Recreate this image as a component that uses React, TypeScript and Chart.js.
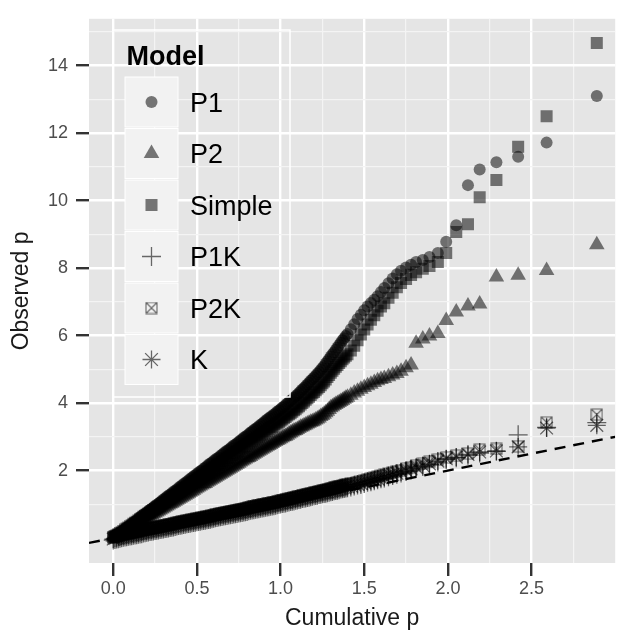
import React, { useEffect, useRef } from 'react';
import { Chart, registerables } from 'chart.js';
import { drawPoint } from 'chart.js/helpers';

Chart.register(...registerables);

// Expected (cumulative) p quantiles, shared by all models
const expectedP = [
  0, 0.01, 0.02, 0.03, 0.04, 0.05, 0.06, 0.07, 0.08, 0.09,
  0.1, 0.11, 0.12, 0.13, 0.14, 0.15, 0.16, 0.17, 0.18, 0.19,
  0.2, 0.21, 0.22, 0.23, 0.24, 0.25, 0.26, 0.27, 0.28, 0.29,
  0.3, 0.31, 0.32, 0.33, 0.34, 0.35, 0.36, 0.37, 0.38, 0.39,
  0.4, 0.41, 0.42, 0.43, 0.44, 0.45, 0.46, 0.47, 0.48, 0.49,
  0.5, 0.51, 0.52, 0.53, 0.54, 0.55, 0.56, 0.57, 0.58, 0.59,
  0.6, 0.61, 0.62, 0.63, 0.64, 0.65, 0.66, 0.67, 0.68, 0.69,
  0.7, 0.71, 0.72, 0.73, 0.74, 0.75, 0.76, 0.77, 0.78, 0.79,
  0.8, 0.81, 0.82, 0.83, 0.84, 0.85, 0.86, 0.87, 0.88, 0.89,
  0.9, 0.91, 0.92, 0.93, 0.94, 0.95, 0.96, 0.97, 0.98, 0.99,
  1.0, 1.01, 1.02, 1.03, 1.04, 1.05, 1.06, 1.07, 1.08, 1.09,
  1.1, 1.11, 1.12, 1.13, 1.14, 1.15, 1.16, 1.17, 1.18, 1.19,
  1.2, 1.21, 1.22, 1.23, 1.24, 1.25, 1.26, 1.27, 1.28, 1.29,
  1.3, 1.31, 1.32, 1.33, 1.34, 1.35, 1.36, 1.37, 1.38, 1.39,
  1.4, 1.42, 1.44, 1.46, 1.48, 1.5, 1.52, 1.54, 1.56, 1.58,
  1.6, 1.62, 1.645, 1.67, 1.695, 1.72, 1.75, 1.78, 1.81, 1.85,
  1.89, 1.94,
  1.99, 2.05, 2.12, 2.19, 2.29, 2.42, 2.59, 2.89,
];

// Observed p per model
const p1Obs = [
  0.03, 0.06, 0.09, 0.12, 0.16, 0.19, 0.23, 0.27, 0.31, 0.34,
  0.38, 0.42, 0.46, 0.49, 0.53, 0.57, 0.61, 0.65, 0.69, 0.72,
  0.76, 0.8, 0.84, 0.87, 0.91, 0.95, 0.99, 1.02, 1.06, 1.1,
  1.14, 1.18, 1.22, 1.25, 1.29, 1.33, 1.37, 1.4, 1.44, 1.48,
  1.52, 1.56, 1.6, 1.63, 1.67, 1.71, 1.75, 1.79, 1.83, 1.86,
  1.9, 1.94, 1.98, 2.01, 2.05, 2.09, 2.13, 2.17, 2.21, 2.24,
  2.28, 2.32, 2.36, 2.39, 2.43, 2.47, 2.51, 2.55, 2.59, 2.62,
  2.66, 2.7, 2.74, 2.77, 2.81, 2.85, 2.89, 2.93, 2.97, 3.0,
  3.04, 3.08, 3.12, 3.16, 3.2, 3.23, 3.27, 3.31, 3.35, 3.39,
  3.43, 3.47, 3.51, 3.55, 3.59, 3.62, 3.66, 3.7, 3.74, 3.78,
  3.82, 3.86, 3.9, 3.94, 3.99, 4.03, 4.07, 4.11, 4.16, 4.2,
  4.25, 4.3, 4.35, 4.4, 4.45, 4.5, 4.55, 4.6, 4.66, 4.71,
  4.76, 4.81, 4.87, 4.92, 4.98, 5.04, 5.1, 5.17, 5.24, 5.31,
  5.38, 5.45, 5.51, 5.58, 5.65, 5.72, 5.79, 5.86, 5.92, 5.99,
  6.05, 6.19, 6.34, 6.49, 6.62, 6.75, 6.86, 6.97, 7.06, 7.17,
  7.29, 7.41, 7.55, 7.69, 7.82, 7.92, 8.02, 8.1, 8.18, 8.24,
  8.33, 8.45,
  8.78, 9.27, 10.46, 10.92, 11.14, 11.3, 11.72, 13.1,
];

const p2Obs = [
  0.02, 0.04, 0.07, 0.1, 0.12, 0.15, 0.18, 0.21, 0.24, 0.27,
  0.3, 0.33, 0.36, 0.39, 0.42, 0.44, 0.47, 0.5, 0.53, 0.56,
  0.59, 0.62, 0.65, 0.68, 0.71, 0.74, 0.77, 0.8, 0.83, 0.86,
  0.89, 0.92, 0.95, 0.98, 1.01, 1.03, 1.06, 1.09, 1.12, 1.15,
  1.18, 1.21, 1.24, 1.27, 1.3, 1.33, 1.36, 1.39, 1.42, 1.45,
  1.48, 1.51, 1.54, 1.57, 1.6, 1.62, 1.65, 1.68, 1.71, 1.74,
  1.77, 1.8, 1.83, 1.86, 1.89, 1.92, 1.95, 1.98, 2.01, 2.04,
  2.07, 2.1, 2.13, 2.16, 2.19, 2.22, 2.25, 2.28, 2.31, 2.34,
  2.37, 2.39, 2.42, 2.45, 2.48, 2.51, 2.54, 2.57, 2.6, 2.63,
  2.66, 2.69, 2.72, 2.74, 2.77, 2.8, 2.83, 2.86, 2.89, 2.91,
  2.94, 2.97, 3.0, 3.02, 3.05, 3.08, 3.11, 3.14, 3.17, 3.19,
  3.22, 3.25, 3.28, 3.3, 3.33, 3.35, 3.38, 3.4, 3.43, 3.45,
  3.47, 3.5, 3.53, 3.56, 3.6, 3.63, 3.67, 3.71, 3.76, 3.81,
  3.86, 3.89, 3.93, 3.96, 3.99, 4.02, 4.05, 4.08, 4.11, 4.14,
  4.17, 4.23, 4.3, 4.35, 4.41, 4.46, 4.51, 4.56, 4.61, 4.66,
  4.7, 4.73, 4.78, 4.83, 4.88, 4.94, 5.05, 5.13, 5.77, 5.9,
  5.99, 6.06,
  6.45, 6.7, 6.88, 6.94, 7.74, 7.79, 7.93, 8.69,
];

const simpleObs = [
  0.02, 0.05, 0.08, 0.11, 0.15, 0.17, 0.21, 0.25, 0.28, 0.31,
  0.35, 0.38, 0.42, 0.45, 0.48, 0.52, 0.56, 0.59, 0.63, 0.66,
  0.69, 0.73, 0.76, 0.79, 0.83, 0.86, 0.9, 0.93, 0.96, 1.0,
  1.04, 1.07, 1.11, 1.14, 1.17, 1.21, 1.25, 1.27, 1.31, 1.35,
  1.38, 1.42, 1.46, 1.48, 1.52, 1.56, 1.59, 1.63, 1.67, 1.69,
  1.73, 1.77, 1.8, 1.83, 1.87, 1.9, 1.94, 1.97, 2.01, 2.04,
  2.07, 2.11, 2.15, 2.17, 2.21, 2.25, 2.28, 2.32, 2.36, 2.38,
  2.42, 2.46, 2.49, 2.52, 2.56, 2.59, 2.63, 2.67, 2.7, 2.73,
  2.77, 2.8, 2.84, 2.88, 2.91, 2.94, 2.98, 3.01, 3.05, 3.08,
  3.12, 3.16, 3.19, 3.23, 3.27, 3.29, 3.33, 3.37, 3.4, 3.44,
  3.48, 3.51, 3.55, 3.59, 3.63, 3.67, 3.7, 3.74, 3.79, 3.82,
  3.87, 3.91, 3.96, 4.0, 4.05, 4.1, 4.14, 4.19, 4.24, 4.29,
  4.33, 4.38, 4.43, 4.48, 4.53, 4.59, 4.64, 4.7, 4.77, 4.83,
  4.9, 4.96, 5.02, 5.08, 5.13, 5.19, 5.24, 5.3, 5.35, 5.4,
  5.45, 5.56, 5.7, 5.86, 6.03, 6.18, 6.33, 6.47, 6.6, 6.74,
  6.86, 6.96, 7.12, 7.27, 7.43, 7.56, 7.68, 7.8, 7.88, 7.98,
  8.06, 8.18,
  8.45, 9.07, 9.3, 10.1, 10.61, 11.6, 12.5, 14.67,
];

const p1kObs = [
  -0.06, -0.04, -0.03, -0.02, -0.01, 0.01, 0.02, 0.03, 0.04, 0.05,
  0.06, 0.07, 0.08, 0.09, 0.1, 0.11, 0.12, 0.13, 0.15, 0.16,
  0.17, 0.18, 0.19, 0.2, 0.21, 0.22, 0.23, 0.24, 0.25, 0.26,
  0.27, 0.28, 0.29, 0.3, 0.31, 0.32, 0.33, 0.34, 0.36, 0.37,
  0.38, 0.39, 0.4, 0.41, 0.42, 0.43, 0.44, 0.45, 0.46, 0.47,
  0.48, 0.49, 0.5, 0.51, 0.52, 0.53, 0.54, 0.55, 0.56, 0.57,
  0.59, 0.6, 0.61, 0.62, 0.63, 0.64, 0.65, 0.66, 0.67, 0.68,
  0.69, 0.7, 0.71, 0.72, 0.73, 0.74, 0.75, 0.76, 0.77, 0.78,
  0.79, 0.81, 0.82, 0.83, 0.84, 0.85, 0.86, 0.87, 0.88, 0.89,
  0.9, 0.91, 0.92, 0.93, 0.94, 0.95, 0.96, 0.97, 0.99, 1.0,
  1.01, 1.02, 1.03, 1.04, 1.06, 1.07, 1.08, 1.09, 1.1, 1.12,
  1.13, 1.14, 1.15, 1.17, 1.18, 1.19, 1.2, 1.21, 1.22, 1.24,
  1.25, 1.26, 1.27, 1.29, 1.3, 1.31, 1.32, 1.33, 1.34, 1.36,
  1.37, 1.38, 1.4, 1.41, 1.42, 1.43, 1.45, 1.46, 1.47, 1.48,
  1.49, 1.51, 1.54, 1.57, 1.59, 1.62, 1.65, 1.67, 1.7, 1.73,
  1.76, 1.78, 1.82, 1.85, 1.89, 1.93, 1.97, 2.02, 2.07, 2.12,
  2.18, 2.25,
  2.33, 2.38, 2.45, 2.52, 2.57, 3.06, 3.28, 3.42,
];

const p2kObs = [
  0.02, 0.04, 0.06, 0.07, 0.08, 0.1, 0.11, 0.12, 0.13, 0.14,
  0.15, 0.16, 0.17, 0.18, 0.19, 0.2, 0.21, 0.23, 0.24, 0.25,
  0.26, 0.27, 0.28, 0.29, 0.3, 0.31, 0.32, 0.33, 0.34, 0.35,
  0.36, 0.37, 0.38, 0.39, 0.4, 0.41, 0.42, 0.44, 0.45, 0.46,
  0.47, 0.48, 0.49, 0.5, 0.51, 0.52, 0.53, 0.54, 0.55, 0.56,
  0.57, 0.58, 0.59, 0.6, 0.61, 0.62, 0.63, 0.64, 0.65, 0.66,
  0.68, 0.69, 0.7, 0.71, 0.72, 0.73, 0.74, 0.75, 0.76, 0.77,
  0.78, 0.79, 0.8, 0.81, 0.82, 0.83, 0.84, 0.85, 0.86, 0.87,
  0.88, 0.9, 0.91, 0.92, 0.93, 0.94, 0.95, 0.96, 0.97, 0.98,
  0.99, 1.0, 1.01, 1.02, 1.03, 1.04, 1.05, 1.06, 1.08, 1.09,
  1.1, 1.11, 1.12, 1.13, 1.15, 1.16, 1.17, 1.18, 1.19, 1.21,
  1.22, 1.23, 1.24, 1.26, 1.27, 1.28, 1.29, 1.3, 1.31, 1.33,
  1.34, 1.35, 1.36, 1.38, 1.39, 1.4, 1.41, 1.42, 1.43, 1.45,
  1.46, 1.48, 1.49, 1.51, 1.52, 1.53, 1.54, 1.55, 1.56, 1.58,
  1.59, 1.61, 1.63, 1.66, 1.68, 1.71, 1.74, 1.76, 1.79, 1.82,
  1.85, 1.87, 1.91, 1.94, 1.98, 2.01, 2.06, 2.1, 2.15, 2.2,
  2.26, 2.32,
  2.38, 2.44, 2.5, 2.62, 2.64, 2.72, 3.43, 3.66,
];

const kObs = [
  -0.03, -0.01, 0.01, 0.02, 0.03, 0.05, 0.06, 0.07, 0.08, 0.09,
  0.1, 0.11, 0.12, 0.13, 0.14, 0.15, 0.16, 0.18, 0.19, 0.2,
  0.21, 0.22, 0.23, 0.24, 0.25, 0.26, 0.27, 0.28, 0.29, 0.3,
  0.31, 0.32, 0.33, 0.34, 0.35, 0.36, 0.37, 0.39, 0.4, 0.41,
  0.42, 0.43, 0.44, 0.45, 0.46, 0.47, 0.48, 0.49, 0.5, 0.51,
  0.52, 0.53, 0.54, 0.55, 0.56, 0.57, 0.58, 0.59, 0.6, 0.61,
  0.63, 0.64, 0.65, 0.66, 0.67, 0.68, 0.69, 0.7, 0.71, 0.72,
  0.73, 0.74, 0.75, 0.76, 0.77, 0.78, 0.79, 0.8, 0.81, 0.82,
  0.83, 0.85, 0.86, 0.87, 0.88, 0.89, 0.9, 0.91, 0.92, 0.93,
  0.94, 0.95, 0.96, 0.97, 0.98, 0.99, 1.0, 1.01, 1.03, 1.04,
  1.05, 1.06, 1.07, 1.08, 1.1, 1.11, 1.12, 1.13, 1.14, 1.16,
  1.17, 1.18, 1.19, 1.21, 1.22, 1.23, 1.24, 1.25, 1.26, 1.28,
  1.29, 1.3, 1.31, 1.33, 1.34, 1.35, 1.36, 1.37, 1.38, 1.4,
  1.41, 1.42, 1.43, 1.44, 1.45, 1.47, 1.48, 1.49, 1.5, 1.52,
  1.53, 1.55, 1.58, 1.6, 1.62, 1.65, 1.68, 1.7, 1.73, 1.76,
  1.79, 1.81, 1.85, 1.88, 1.92, 1.96, 2.0, 2.05, 2.1, 2.15,
  2.2, 2.28,
  2.35, 2.4, 2.48, 2.55, 2.58, 2.7, 3.26, 3.34,
];

const modelNames = ['P1', 'P2', 'Simple', 'P1K', 'P2K', 'K'];
const legendTitle = 'Model';
const xTitle = 'Cumulative p';
const yTitle = 'Observed p';

// Axis breaks (major labelled, minor unlabelled)
const xTickValues = [0, 0.25, 0.5, 0.75, 1, 1.25, 1.5, 1.75, 2, 2.25, 2.5, 2.75];
const xMajorTicks = [0, 0.5, 1, 1.5, 2, 2.5];
const yTickValues = [1, 2, 3, 4, 5, 6, 7, 8, 9, 10, 11, 12, 13, 14, 15];
const yMajorTicks = [2, 4, 6, 8, 10, 12, 14];
const xLimits = [-0.145, 3.0];
const yLimits = [-0.74, 15.39];
const refLineX = [-0.145, 3.0]; // identity line y = x

const FONT = "'Liberation Sans', Arial, Helvetica, sans-serif";
const FILL = 'rgba(0,0,0,0.52)';
const STROKE = 'rgba(0,0,0,0.58)';

function makeBoxCross(size: number): HTMLCanvasElement {
  const c = document.createElement('canvas');
  c.width = size;
  c.height = size;
  const g = c.getContext('2d')!;
  g.strokeStyle = STROKE;
  g.lineWidth = 1.1;
  g.beginPath();
  g.rect(1, 1, size - 2, size - 2);
  g.moveTo(1, 1);
  g.lineTo(size - 1, size - 1);
  g.moveTo(size - 1, 1);
  g.lineTo(1, size - 1);
  g.stroke();
  return c;
}

export default function App() {
  const ref = useRef<HTMLCanvasElement>(null);

  useEffect(() => {
    const canvas = ref.current;
    if (!canvas) return;
    const boxCross = makeBoxCross(13);

    const markerStyles: any[] = [
      { pointStyle: 'circle', radius: 6, backgroundColor: FILL, borderColor: FILL, borderWidth: 0 },
      { pointStyle: 'triangle', radius: 9, backgroundColor: FILL, borderColor: FILL, borderWidth: 0 },
      { pointStyle: 'rect', radius: 8.5, backgroundColor: FILL, borderColor: FILL, borderWidth: 0 },
      { pointStyle: 'cross', radius: 9.5, backgroundColor: 'rgba(0,0,0,0)', borderColor: STROKE, borderWidth: 1.3 },
      { pointStyle: boxCross, radius: 6.5, backgroundColor: 'rgba(0,0,0,0)', borderColor: STROKE, borderWidth: 0 },
      { pointStyle: 'star', radius: 9, backgroundColor: 'rgba(0,0,0,0)', borderColor: STROKE, borderWidth: 1.3 },
    ];
    const obs = [p1Obs, p2Obs, simpleObs, p1kObs, p2kObs, kObs];

    const pointSets = modelNames.map((name, s) => ({
      label: name,
      data: expectedP.map((x, i) => ({ x, y: obs[s][i] })),
      pointStyle: markerStyles[s].pointStyle,
      pointRadius: markerStyles[s].radius,
      pointBackgroundColor: markerStyles[s].backgroundColor,
      pointBorderColor: markerStyles[s].borderColor,
      pointBorderWidth: markerStyles[s].borderWidth,
      showLine: false,
    }));

    const lineSet = {
      label: 'identity',
      data: refLineX.map((x) => ({ x, y: x })),
      showLine: true,
      borderColor: '#000',
      borderWidth: 2.4,
      borderDash: [11, 8],
      pointRadius: 0,
      fill: false,
    };

    const panelBg = {
      id: 'panelBg',
      beforeDraw(chart: any) {
        const { ctx, chartArea: a } = chart;
        ctx.save();
        ctx.fillStyle = '#e5e5e5';
        ctx.fillRect(a.left, a.top, a.right - a.left, a.bottom - a.top);
        ctx.restore();
      },
    };

    const ggLegend = {
      id: 'ggLegend',
      afterDraw(chart: any) {
        const ctx = chart.ctx as CanvasRenderingContext2D;
        ctx.save();
        ctx.strokeStyle = '#ffffff';
        ctx.lineWidth = 1.5;
        ctx.strokeRect(113, 30, 177, 367);
        ctx.fillStyle = '#000';
        ctx.font = `bold 27px ${FONT}`;
        ctx.textAlign = 'left';
        ctx.textBaseline = 'alphabetic';
        ctx.fillText(legendTitle, 126.5, 65);
        const keyLeft = 125;
        const keyW = 53;
        const rowH = 51.5;
        const top0 = 77;
        modelNames.forEach((name, i) => {
          const y0 = top0 + i * rowH;
          ctx.fillStyle = '#f2f2f2';
          ctx.fillRect(keyLeft, y0, keyW, rowH - 1.5);
          ctx.strokeStyle = '#ffffff';
          ctx.lineWidth = 1;
          ctx.strokeRect(keyLeft, y0, keyW, rowH - 1.5);
          const cy = y0 + (rowH - 1.5) / 2;
          const st = markerStyles[i];
          ctx.fillStyle = st.backgroundColor;
          ctx.strokeStyle = st.borderColor;
          ctx.lineWidth = st.borderWidth || 1;
          drawPoint(ctx, { pointStyle: st.pointStyle, radius: st.radius, rotation: 0, borderWidth: st.borderWidth } as any, keyLeft + keyW / 2, cy);
          ctx.fillStyle = '#000';
          ctx.font = `27px ${FONT}`;
          ctx.fillText(name, 190, cy + 9.7);
        });
        ctx.restore();
      },
    };

    const isMajor = (v: number, list: number[]) => list.some((m) => Math.abs(m - v) < 1e-9);

    const chart = new Chart(canvas, {
      type: 'scatter',
      data: { datasets: [lineSet as any, ...pointSets] },
      options: {
        responsive: false,
        animation: false,
        devicePixelRatio: 1,
        events: [],
        layout: { padding: { top: 10, right: 0, left: 0, bottom: 0 } },
        plugins: { legend: { display: false }, tooltip: { enabled: false } },
        scales: {
          x: {
            type: 'linear',
            min: xLimits[0],
            max: xLimits[1],
            afterFit(scale: any) { scale.height = 73; },
            afterBuildTicks(scale: any) { scale.ticks = xTickValues.map((v) => ({ value: v })); },
            border: { display: false },
            grid: {
              color: (c: any) => (isMajor(c.tick?.value, xMajorTicks) ? '#ffffff' : '#f4f4f4'),
              lineWidth: (c: any) => (isMajor(c.tick?.value, xMajorTicks) ? 2.4 : 1.2),
              tickColor: (c: any) => (isMajor(c.tick?.value, xMajorTicks) ? '#333333' : 'rgba(0,0,0,0)'),
              tickWidth: 2.4,
              tickLength: 13,
              drawTicks: true,
            },
            ticks: {
              autoSkip: false,
              maxRotation: 0,
              padding: 2,
              color: '#4d4d4d',
              font: { family: FONT, size: 18 },
              callback: (v: any) => (isMajor(Number(v), xMajorTicks) ? Number(v).toFixed(1) : ''),
            },
            title: {
              display: true,
              text: xTitle,
              color: '#1a1a1a',
              font: { family: FONT, size: 23 },
              padding: { top: 0, bottom: 4 },
            },
          },
          y: {
            type: 'linear',
            min: yLimits[0],
            max: yLimits[1],
            afterFit(scale: any) { scale.width = 89; },
            afterBuildTicks(scale: any) { scale.ticks = yTickValues.map((v) => ({ value: v })); },
            border: { display: false },
            grid: {
              color: (c: any) => (isMajor(c.tick?.value, yMajorTicks) ? '#ffffff' : '#f4f4f4'),
              lineWidth: (c: any) => (isMajor(c.tick?.value, yMajorTicks) ? 2.4 : 1.2),
              tickColor: (c: any) => (isMajor(c.tick?.value, yMajorTicks) ? '#333333' : 'rgba(0,0,0,0)'),
              tickWidth: 2.4,
              tickLength: 13,
              drawTicks: true,
            },
            ticks: {
              autoSkip: false,
              padding: 8,
              color: '#4d4d4d',
              font: { family: FONT, size: 18 },
              callback: (v: any) => (isMajor(Number(v), yMajorTicks) ? String(Number(v)) : ''),
            },
            title: {
              display: true,
              text: yTitle,
              color: '#1a1a1a',
              font: { family: FONT, size: 23 },
              padding: { top: 8, bottom: 0 },
            },
          },
        },
      },
      plugins: [panelBg, ggLegend],
    } as any);

    return () => chart.destroy();
  }, []);

  return (
    <div style={{ position: 'fixed', left: 0, top: 0, width: 626, height: 636, background: '#ffffff' }}>
      <canvas ref={ref} width={626} height={636} style={{ display: 'block', width: 626, height: 636 }} />
    </div>
  );
}
